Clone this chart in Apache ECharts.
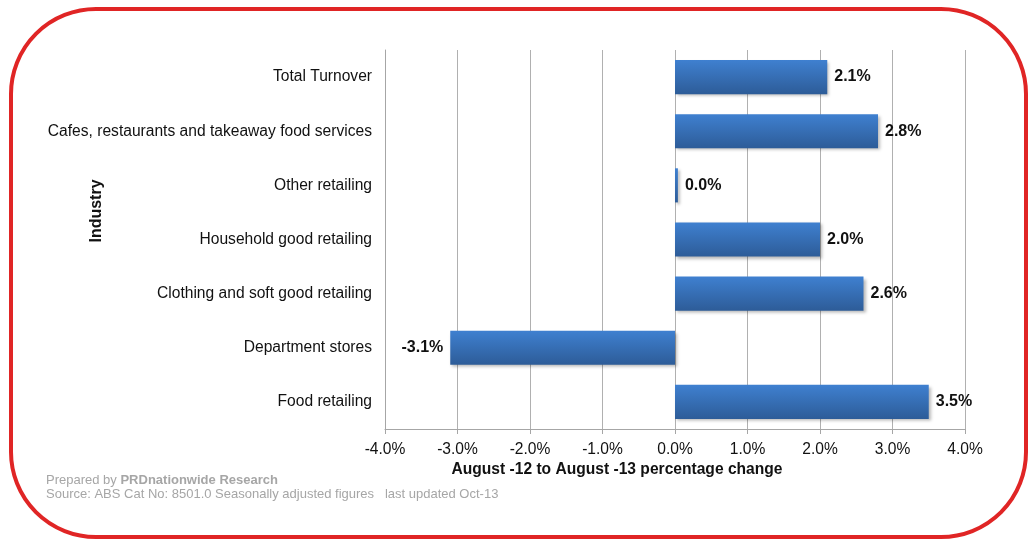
<!DOCTYPE html>
<html>
<head>
<meta charset="utf-8">
<script src="https://cdn.jsdelivr.net/npm/echarts@6/dist/echarts.min.js"></script>
<style>
  html, body { margin: 0; padding: 0; background: #ffffff; }
  #chart { width: 1033px; height: 540px; }
</style>
</head>
<body>
<div id="chart"></div>
<script>
// Industry categories, listed top to bottom as shown
const industries = [
  'Total Turnover',
  'Cafes, restaurants and takeaway food services',
  'Other retailing',
  'Household good retailing',
  'Clothing and soft good retailing',
  'Department stores',
  'Food retailing'
];

// Annual percentage change, August 2012 to August 2013
const changePct = [2.1, 2.8, 0.04, 2.0, 2.6, -3.1, 3.5];

// Axis settings for the percentage scale
const axisMin = -4;
const axisMax = 4;
const axisStep = 1;

const xAxisTitle = 'August -12 to August -13 percentage change';
const yAxisTitle = 'Industry';
const preparedBy = 'PRDnationwide Research';
const sourceNote = 'Source: ABS Cat No: 8501.0 Seasonally adjusted figures   last updated Oct-13';

const FONT = '"Liberation Sans", Arial, Helvetica, sans-serif';

const barFill = new echarts.graphic.LinearGradient(0, 0, 0, 1, [
  { offset: 0, color: '#3f80d0' },
  { offset: 1, color: '#2d5c98' }
]);

const barData = changePct.map(v => ({
  value: v,
  label: { position: v < 0 ? 'left' : 'right' }
}));

const chart = echarts.init(document.getElementById('chart'), null, { renderer: 'canvas' });

chart.setOption({
  backgroundColor: '#ffffff',
  animation: false,
  grid: { left: 385, right: 68, top: 50, bottom: 111, containLabel: false },
  xAxis: {
    type: 'value',
    min: axisMin,
    max: axisMax,
    interval: axisStep,
    axisLine: { show: true, lineStyle: { color: '#a6a6a6', width: 1 } },
    axisTick: { show: true, length: 5, lineStyle: { color: '#a6a6a6' } },
    axisLabel: {
      margin: 13,
      color: '#111111',
      fontFamily: FONT,
      fontSize: 15.6,
      formatter: v => v.toFixed(1) + '%'
    },
    splitLine: { show: true, lineStyle: { color: '#b0b0b0', width: 1 } }
  },
  yAxis: {
    type: 'category',
    inverse: true,
    data: industries,
    axisLine: { show: true, onZero: false, lineStyle: { color: '#a6a6a6', width: 1 } },
    axisTick: { show: false },
    axisLabel: {
      margin: 13,
      color: '#111111',
      fontFamily: FONT,
      fontSize: 15.6
    },
    splitLine: { show: false }
  },
  series: [{
    type: 'bar',
    data: barData,
    barCategoryGap: '37%',
    itemStyle: {
      color: barFill,
      shadowColor: 'rgba(0,0,0,0.28)',
      shadowBlur: 3,
      shadowOffsetX: 2,
      shadowOffsetY: 2
    },
    label: {
      show: true,
      distance: 7,
      color: '#111111',
      fontFamily: FONT,
      fontSize: 16,
      fontWeight: 'bold',
      formatter: p => p.value.toFixed(1) + '%'
    }
  }],
  graphic: [
    {
      type: 'rect',
      shape: { x: 11, y: 9, width: 1015, height: 528, r: 85 },
      style: { fill: 'none', stroke: '#e02525', lineWidth: 4 },
      silent: true,
      z: 100
    },
    {
      type: 'text',
      x: 97,
      y: 211,
      rotation: Math.PI / 2,
      style: {
        text: yAxisTitle,
        fill: '#111111',
        font: 'bold 16px ' + FONT,
        align: 'center',
        verticalAlign: 'middle'
      }
    },
    {
      type: 'text',
      x: 617,
      y: 470,
      style: {
        text: xAxisTitle,
        fill: '#111111',
        font: 'bold 15.6px ' + FONT,
        align: 'center',
        verticalAlign: 'middle'
      }
    },
    {
      type: 'text',
      x: 46,
      y: 480,
      style: {
        text: 'Prepared by {b|' + preparedBy + '}',
        fill: '#a6a6a6',
        font: '13px ' + FONT,
        verticalAlign: 'middle',
        rich: {
          b: { fill: '#a6a6a6', fontWeight: 'bold', fontSize: 13, fontFamily: FONT }
        }
      }
    },
    {
      type: 'text',
      x: 46,
      y: 494,
      style: {
        text: sourceNote,
        fill: '#a6a6a6',
        font: '13px ' + FONT,
        verticalAlign: 'middle'
      }
    }
  ]
});
</script>
</body>
</html>
